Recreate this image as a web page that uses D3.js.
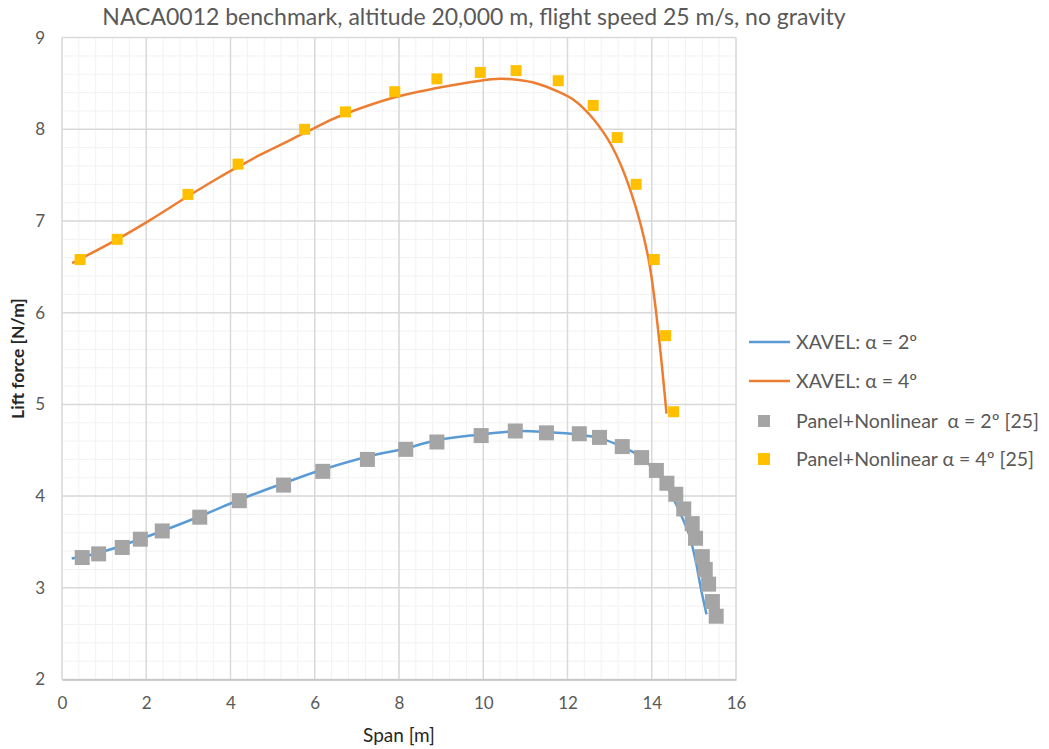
<!DOCTYPE html>
<html><head><meta charset="utf-8">
<script src="https://cdn.jsdelivr.net/npm/d3@7"></script>
<style>body{margin:0;background:#fff}svg{display:block}</style>
</head><body>
<svg id="c" width="1049" height="749"></svg>
<script>
const title = "NACA0012 benchmark, altitude 20,000 m, flight speed 25 m/s, no gravity";
const xTicks = [0,2,4,6,8,10,12,14,16];
const yTicks = [2,3,4,5,6,7,8,9];

// XAVEL α = 2°
const xavel2X = [0.23,0.87,1.85,3.28,4.21,5.26,6.19,7.25,8.16,8.90,9.90,10.80,11.50,12.30,12.78,13.29,13.73,14.13,14.40,14.64,14.88,15.04,15.16,15.30];
const xavel2Y = [3.32,3.38,3.53,3.78,3.96,4.14,4.29,4.43,4.52,4.61,4.67,4.71,4.70,4.67,4.63,4.54,4.43,4.25,4.07,3.85,3.59,3.30,3.01,2.71];

// XAVEL α = 4°
const xavel4X = [0.24,1.31,2.09,2.99,3.75,4.18,4.70,5.76,6.37,6.73,7.90,8.90,9.93,10.40,10.80,11.27,11.78,12.15,12.60,13.06,13.49,13.93,14.35];
const xavel4Y = [6.54,6.80,7.01,7.27,7.48,7.59,7.72,7.96,8.10,8.17,8.35,8.45,8.53,8.55,8.54,8.50,8.41,8.32,8.12,7.81,7.34,6.57,4.90];

// Panel+Nonlinear α = 2° [25]
const panel2X = [0.48,0.87,1.43,1.86,2.38,3.27,4.21,5.26,6.19,7.25,8.16,8.90,9.95,10.76,11.50,12.28,12.76,13.30,13.76,14.11,14.36,14.57,14.76,14.96,15.04,15.20,15.27,15.35,15.44,15.53];
const panel2Y = [3.33,3.37,3.44,3.53,3.62,3.77,3.95,4.12,4.27,4.40,4.51,4.59,4.66,4.71,4.69,4.68,4.64,4.54,4.42,4.28,4.14,4.02,3.86,3.70,3.54,3.34,3.20,3.04,2.85,2.69];

// Panel+Nonlinear α = 4° [25]
const panel4X = [0.43,1.31,2.99,4.18,5.76,6.73,7.90,8.90,9.93,10.78,11.78,12.61,13.18,13.63,14.06,14.33,14.52];
const panel4Y = [6.58,6.80,7.29,7.62,8.00,8.19,8.41,8.55,8.62,8.64,8.53,8.26,7.91,7.40,6.58,5.75,4.92];

const legendLabels = ["XAVEL: α = 2º","XAVEL: α = 4º","Panel+Nonlinear  α = 2º [25]","Panel+Nonlinear α = 4º [25]"];

const C = {blue:"#5B9BD5", orange:"#ED7D31", gray:"#A5A5A5", yellow:"#FFC000", text:"#595959"};
const FONT = "Lato, 'Open Sans', sans-serif";

const svg = d3.select("#c");
const L = 62, R = 736, T = 37.6, B = 679.5;
const x = d3.scaleLinear().domain([0,16]).range([L,R]);
const y = d3.scaleLinear().domain([2,9]).range([B,T]);

// minor grid
const g = svg.append("g");
g.selectAll("line.mx").data(d3.range(0,16.001,0.4)).join("line")
  .attr("x1",d=>x(d)).attr("x2",d=>x(d)).attr("y1",T).attr("y2",B)
  .attr("stroke","#f2f2f2").attr("stroke-width",1);
g.selectAll("line.my").data(d3.range(2,9.001,0.2)).join("line")
  .attr("y1",d=>y(d)).attr("y2",d=>y(d)).attr("x1",L).attr("x2",R)
  .attr("stroke","#f2f2f2").attr("stroke-width",1);
// major grid
g.selectAll("line.Mx").data(xTicks).join("line")
  .attr("x1",d=>x(d)).attr("x2",d=>x(d)).attr("y1",T).attr("y2",B)
  .attr("stroke","#d9d9d9").attr("stroke-width",1.5);
g.selectAll("line.My").data(yTicks).join("line")
  .attr("y1",d=>y(d)).attr("y2",d=>y(d)).attr("x1",L).attr("x2",R)
  .attr("stroke","#d9d9d9").attr("stroke-width",1.5);

// axes
const xAxis = svg.append("g").attr("transform",`translate(0,${B})`)
  .call(d3.axisBottom(x).tickValues(xTicks).tickSize(0).tickPadding(17).tickFormat(d3.format("d")));
const yAxis = svg.append("g").attr("transform",`translate(${L},0)`)
  .call(d3.axisLeft(y).tickValues(yTicks).tickSize(0).tickPadding(17).tickFormat(d3.format("d")));
[xAxis,yAxis].forEach(a=>{
  a.select(".domain").attr("stroke","#bfbfbf").attr("stroke-width",1.5);
  a.selectAll("text").attr("fill",C.text).style("font-family",FONT).style("font-size","17px");
});
yAxis.select(".domain").remove();

// lines
const line = d3.line().x(d=>x(d[0])).y(d=>y(d[1])).curve(d3.curveCatmullRom.alpha(0.5));
const s2 = xavel2X.map((v,i)=>[v,xavel2Y[i]]);
const s4 = xavel4X.map((v,i)=>[v,xavel4Y[i]]);
svg.append("path").attr("d",line(s2)).attr("fill","none").attr("stroke",C.blue).attr("stroke-width",2.5);
svg.append("path").attr("d",line(s4)).attr("fill","none").attr("stroke",C.orange).attr("stroke-width",2.5);

// markers
const p2 = panel2X.map((v,i)=>[v,panel2Y[i]]);
const p4 = panel4X.map((v,i)=>[v,panel4Y[i]]);
const m2 = 15, m4 = 11;
svg.append("g").selectAll("rect").data(p2).join("rect")
  .attr("x",d=>x(d[0])-m2/2).attr("y",d=>y(d[1])-m2/2).attr("width",m2).attr("height",m2)
  .attr("fill",C.gray);
svg.append("g").selectAll("rect").data(p4).join("rect")
  .attr("x",d=>x(d[0])-m4/2).attr("y",d=>y(d[1])-m4/2).attr("width",m4).attr("height",m4)
  .attr("fill",C.yellow);

// title
svg.append("text").attr("x",474).attr("y",25).attr("text-anchor","middle")
  .attr("fill",C.text).style("font-family",FONT).style("font-size","23px").text(title);

// axis titles
svg.append("text").attr("x",x(8)).attr("y",742).attr("text-anchor","middle")
  .attr("fill","#262626").style("font-family",FONT).style("font-size","19px").text("Span [m]");
svg.append("text").attr("transform",`translate(24,${(T+B)/2}) rotate(-90)`).attr("text-anchor","middle")
  .attr("fill","#262626").style("font-family",FONT).style("font-size","17.5px").style("font-weight","bold").text("Lift force [N/m]");

// legend
const ly = [342,381,421,459];
const lg = svg.append("g");
lg.append("line").attr("x1",749).attr("x2",790).attr("y1",ly[0]).attr("y2",ly[0]).attr("stroke",C.blue).attr("stroke-width",2.5);
lg.append("line").attr("x1",749).attr("x2",790).attr("y1",ly[1]).attr("y2",ly[1]).attr("stroke",C.orange).attr("stroke-width",2.5);
lg.append("rect").attr("x",764-6).attr("y",ly[2]-6).attr("width",12).attr("height",12).attr("fill",C.gray);
lg.append("rect").attr("x",764-6).attr("y",ly[3]-6).attr("width",12).attr("height",12).attr("fill",C.yellow);
lg.selectAll("text").data(legendLabels).join("text")
  .attr("x",796).attr("y",(d,i)=>ly[i]+7)
  .attr("fill",C.text).style("font-family",FONT).style("font-size","19.5px")
  .style("white-space","pre").attr("xml:space","preserve")
  .text(d=>d);
</script>
</body></html>
